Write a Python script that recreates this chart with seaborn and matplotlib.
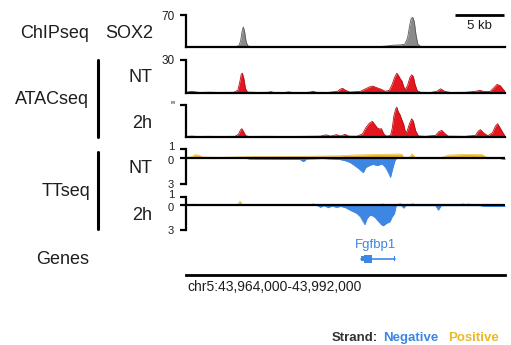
import numpy as np
import pandas as pd
import matplotlib
matplotlib.use("Agg")
import matplotlib.pyplot as plt
import seaborn as sns
from matplotlib.lines import Line2D
from matplotlib.patches import Rectangle
from matplotlib.transforms import ScaledTranslation

# ---------------- data (positions in kb from chr5:43,964,000) ----------------
region_label = "chr5:43,964,000-43,992,000"
region_len_kb = 28.0

chip_pos = [0, 1.5, 3.0, 4.4, 4.65, 4.8, 4.92, 5.03, 5.14, 5.26, 5.4, 5.65, 7, 9, 11, 13, 15, 17.0,
            17.8, 18.2, 18.8, 19.2, 19.45, 19.62, 19.76, 19.9, 20.04, 20.18, 20.35, 20.6, 21.5, 24, 26, 28]
chip_val = [0.5, 0.8, 0.6, 0.8, 3, 14, 34, 44, 34, 14, 3, 0.8, 0.6, 0.8, 0.6, 0.8, 0.7, 0.9,
            2.5, 4.0, 4.5, 6, 20, 45, 62, 65, 55, 28, 6, 1.2, 0.8, 0.6, 0.8, 0.5]

atac_nt_pos = [0, 0.3, 0.55, 0.8, 1.2, 2.0, 3.0, 4.2, 4.55, 4.72, 4.85, 4.95, 5.08, 5.22, 5.4,
               6.2, 7.2, 7.45, 7.7, 8.7, 9.0, 9.3, 10.5, 10.9, 11.15, 11.45, 12.5, 13.3, 13.55, 13.75,
               14.0, 14.4, 15.3, 15.7, 16.1, 16.4, 16.7, 17.1, 17.5, 17.85, 18.1, 18.3, 18.5, 18.65, 18.8,
               18.95, 19.1, 19.25, 19.45, 19.65, 19.8, 19.95, 20.1, 20.3, 20.6, 21.5, 22.0, 22.35, 22.7, 23.2,
               24.5, 25.4, 25.8, 26.2, 26.7, 27.0, 27.3, 27.6, 27.9, 28]
atac_nt_val = [0.5, 1.2, 1.5, 1.0, 0.5, 0.7, 0.5, 0.6, 2.5, 10, 17, 18, 13, 4, 0.8,
               0.5, 0.6, 1.2, 0.5, 0.5, 1.0, 0.5, 0.5, 0.8, 1.6, 0.6, 0.5, 1.5, 3.5, 4.2,
               2.5, 0.8, 1.5, 3.5, 5.5, 6.3, 5.0, 3.5, 1.5, 2.5, 8, 14, 18, 16, 13,
               11, 6, 3.0, 7, 14, 16.5, 15, 8, 2, 0.6, 0.5, 1.5, 3.8, 1.5, 0.5,
               0.6, 1.5, 2.4, 1.2, 1.5, 4.5, 7.8, 6.5, 2.5, 1.5]

atac_2h_pos = [0, 0.5, 1.0, 2.0, 3.0, 4.3, 4.6, 4.78, 4.9, 5.05, 5.25, 5.5, 7, 9, 10.5,
               11.8, 12.3, 12.7, 13.2, 13.6, 13.95, 14.3, 15.0, 15.5, 15.8, 16.1, 16.35, 16.55, 16.8, 17.0,
               17.15, 17.35, 17.6, 17.95, 18.1, 18.25, 18.4, 18.5, 18.62, 18.78, 18.95, 19.1, 19.25, 19.4, 19.6,
               19.8, 19.95, 20.15, 20.4, 21.0, 21.9, 22.2, 22.45, 22.7, 23.0, 24.5, 25.4, 25.65, 25.85, 26.1,
               26.5, 26.9, 27.15, 27.35, 27.6, 27.9, 28]
atac_2h_val = [0.5, 0.8, 0.5, 0.6, 0.5, 0.6, 2.5, 6.5, 7.8, 5.0, 1.2, 0.5, 0.6, 0.5, 0.6,
               0.8, 2.0, 0.8, 2.2, 0.9, 2.5, 0.8, 0.7, 3.0, 9, 13, 14.7, 12, 8.4, 7.5,
               7.8, 3.0, 0.8, 1.5, 8, 20, 26, 28, 24, 21, 16, 12, 5, 5, 12,
               17, 15, 6, 1.0, 0.6, 1.5, 5, 6.2, 3.5, 0.8, 0.6, 1.5, 5.5, 6.9, 4,
               1.2, 4, 10, 12.5, 8, 2.5, 1.5]

tt_nt_pos_x = [0, 0.5, 0.8, 1.1, 1.5, 3, 5.5, 8, 11, 13.5, 14.5, 16, 17.5, 18.5, 18.95,
               19.1, 19.6, 19.85, 20.1, 20.5, 22.5, 23.0, 24.5, 26.0, 26.4, 28]
tt_nt_pos_v = [0, 0.12, 0.35, 0.3, 0.08, 0.05, 0.12, 0.15, 0.18, 0.22, 0.3, 0.35, 0.4, 0.42, 0.4,
               0.05, 0.05, 0.45, 0.05, 0.03, 0.05, 0.3, 0.38, 0.35, 0.03, 0.02]
tt_nt_neg_x = [0, 5.0, 5.6, 8, 10.0, 10.3, 10.6, 12, 13.5, 14.0, 14.4, 14.8, 15.2, 15.55, 15.8,
               16.1, 16.4, 16.8, 17.2, 17.5, 17.75, 17.95, 18.15, 18.35, 18.5, 22, 27.4, 28]
tt_nt_neg_v = [0, 0.02, 0.15, 0.18, 0.2, 0.45, 0.15, 0.1, 0.2, 0.35, 0.55, 0.9, 1.3, 1.7, 1.1,
               0.9, 0.75, 0.9, 0.7, 1.1, 1.7, 2.25, 1.2, 0.3, 0.02, 0.02, 0.05, 0.2]

tt_2h_pos_x = [0, 0.45, 0.65, 0.9, 4.5, 4.74, 4.95, 11.0, 11.2, 11.4, 14.8, 15.0, 15.2, 17.1, 17.3,
               17.5, 18.6, 18.8, 19.0, 19.7, 19.9, 20.1, 24.0, 24.3, 24.6, 24.8, 25.0, 28]
tt_2h_pos_v = [0, 0.02, 0.15, 0.02, 0.02, 0.5, 0.02, 0.02, 0.2, 0.02, 0.02, 0.15, 0.02, 0.02, 0.2,
               0.02, 0.02, 0.25, 0.02, 0.02, 0.25, 0.02, 0.02, 0.2, 0.05, 0.2, 0.02, 0]
tt_2h_neg_x = [0, 11.5, 11.8, 12.1, 12.5, 12.8, 13.2, 13.6, 14.0, 14.4, 14.7, 15.0, 15.3, 15.5, 15.7,
               15.9, 16.15, 16.4, 16.6, 16.85, 17.1, 17.3, 17.6, 17.9, 18.1, 18.3, 18.45, 18.9, 19.1, 19.3,
               21.9, 22.15, 22.4, 25.8, 26.2, 28]
tt_2h_neg_v = [0, 0.02, 0.25, 0.05, 0.3, 0.1, 0.25, 0.15, 0.3, 0.6, 0.8, 1.0, 1.4, 1.9, 2.35,
               1.6, 1.2, 1.3, 1.5, 1.9, 2.3, 2.5, 2.2, 2.0, 1.4, 1.0, 0.05, 0.05, 0.35, 0.05,
               0.05, 0.6, 0.05, 0.05, 0.15, 0.15]

gene_name = "Fgfbp1"
gene_span = (15.35, 18.35)
gene_utr = (15.35, 15.6)
gene_cds = (15.6, 16.35)
gene_last_exon = (18.25, 18.35)

scale_bar_kb = (23.6, 27.9)
scale_label = "5 kb"

# ---------------- style ----------------
sns.set_theme(style="white")
plt.rcParams['font.family'] = ['Liberation Sans', 'DejaVu Sans']

W, H = 511, 345
fig = plt.figure(figsize=(W / 100, H / 100), dpi=100)
fig.patch.set_facecolor("white")

TXT = "#1e1e1e"
GREY, GREY_E = "#8a8a8a", "#5a5a5a"
RED, RED_E = "#e3171d", "#b01015"
BLUE = "#3d86e3"
GOLD = "#e9b92b"
LW = 1.6
TICKFS = 8.5


def add_ax(top, bottom, left=186, right=505):
    return fig.add_axes([left / W, 1 - bottom / H, (right - left) / W, (bottom - top) / H])


def fx(x):
    return x / W


def fy(y):
    return 1 - y / H


def style_left(ax):
    for s in ["top", "right"]:
        ax.spines[s].set_visible(False)
    ax.spines["left"].set_color("black")
    ax.spines["left"].set_linewidth(LW)
    ax.tick_params(axis="y", which="both", left=True, length=4.5, width=LW, color="black",
                   labelsize=TICKFS, labelcolor=TXT, pad=4, direction="out")
    ax.tick_params(axis="x", bottom=False, labelbottom=False)
    ax.set_xlim(0, region_len_kb)
    ax.set_xlabel("")
    ax.set_ylabel("")
    ax.patch.set_alpha(0)


def signal_track(ax, xs, vs, ymax, color, edge, ticklabel):
    df = pd.DataFrame({"pos": xs, "val": vs})
    ax.fill_between(df["pos"], 0, df["val"], color=color, lw=0)
    sns.lineplot(data=df, x="pos", y="val", ax=ax, color=edge, lw=0.6, estimator=None, sort=False)
    style_left(ax)
    ax.set_ylim(0, ymax)
    ax.spines["bottom"].set_color("black")
    ax.spines["bottom"].set_linewidth(LW)
    ax.set_yticks([ymax])
    ax.set_yticklabels([ticklabel])


def strand_track(ax, px, pv, nx, nv):
    dp = pd.DataFrame({"pos": px, "val": pv})
    dn = pd.DataFrame({"pos": nx, "val": [-v for v in nv]})
    ax.fill_between(dn["pos"], 0, dn["val"], color=BLUE, lw=0)
    ax.fill_between(dp["pos"], 0, dp["val"], color=GOLD, lw=0)
    sns.lineplot(data=dn, x="pos", y="val", ax=ax, color=BLUE, lw=0.5, estimator=None, sort=False)
    sns.lineplot(data=dp, x="pos", y="val", ax=ax, color=GOLD, lw=0.5, estimator=None, sort=False)
    style_left(ax)
    ax.spines["bottom"].set_visible(False)
    ax.set_ylim(-3, 1)
    ax.axhline(0, color="black", lw=LW, zorder=5)
    ax.set_yticks([1, 0, -3])
    ax.set_yticklabels(["1", "0", "3"])
    labs = ax.get_yticklabels()
    shifts = [2.0, -1.5, 0.0]  # points; keeps stacked "1" / "0" apart
    for lab, dy in zip(labs, shifts):
        lab.set_fontsize(8)
        lab.set_transform(lab.get_transform() + ScaledTranslation(0, dy / 72, fig.dpi_scale_trans))


# tracks
ax_chip = add_ax(15, 47)
signal_track(ax_chip, chip_pos, chip_val, 70, GREY, GREY_E, "70")
ax_chip.plot(list(scale_bar_kb), [70, 70], color="black", lw=2, clip_on=False, solid_capstyle="butt")
ax_chip.text(sum(scale_bar_kb) / 2, 47, scale_label, ha="center", va="center", fontsize=9.5, color=TXT)

ax_nt = add_ax(60, 93)
signal_track(ax_nt, atac_nt_pos, atac_nt_val, 30, RED, RED_E, "30")

ax_2h = add_ax(105, 137)
signal_track(ax_2h, atac_2h_pos, atac_2h_val, 30, RED, RED_E, '"')

ax_tnt = add_ax(149, 184)
strand_track(ax_tnt, tt_nt_pos_x, tt_nt_pos_v, tt_nt_neg_x, tt_nt_neg_v)

ax_t2h = add_ax(197, 230)
strand_track(ax_t2h, tt_2h_pos_x, tt_2h_pos_v, tt_2h_neg_x, tt_2h_neg_v)

# genes + coordinate bar
ax_g = add_ax(236, 275)
ax_g.set_xlim(0, region_len_kb)
ax_g.set_ylim(0, 1)
for s in ["top", "right", "left"]:
    ax_g.spines[s].set_visible(False)
ax_g.spines["bottom"].set_color("black")
ax_g.spines["bottom"].set_linewidth(2)
ax_g.set_xticks([])
ax_g.set_yticks([])
ax_g.patch.set_alpha(0)
gy = 0.42
ax_g.plot(list(gene_span), [gy, gy], color=BLUE, lw=1.2)
ax_g.add_patch(Rectangle((gene_cds[0], gy - 0.1), gene_cds[1] - gene_cds[0], 0.2, color=BLUE, lw=0))
ax_g.add_patch(Rectangle((gene_utr[0], gy - 0.065), gene_utr[1] - gene_utr[0], 0.13, color=BLUE, lw=0))
ax_g.add_patch(Rectangle((gene_last_exon[0], gy - 0.065), gene_last_exon[1] - gene_last_exon[0], 0.13,
                         color=BLUE, lw=0))
ax_g.text(sum(gene_span) / 2 - 0.2, 0.78, gene_name, ha="center", va="center", fontsize=9.5, color=BLUE)

fig.text(fx(187), fy(287), region_label, ha="left", va="center", fontsize=10, color=TXT)

# left labels
LFS = 13
fig.text(fx(55), fy(33), "ChIPseq", ha="center", va="center", fontsize=LFS, color=TXT)
fig.text(fx(129), fy(33), "SOX2", ha="center", va="center", fontsize=LFS, color=TXT)
fig.text(fx(52), fy(99), "ATACseq", ha="center", va="center", fontsize=LFS, color=TXT)
fig.text(fx(152), fy(77), "NT", ha="right", va="center", fontsize=LFS, color=TXT)
fig.text(fx(152), fy(124), "2h", ha="right", va="center", fontsize=LFS, color=TXT)
fig.text(fx(66), fy(192), "TTseq", ha="center", va="center", fontsize=LFS, color=TXT)
fig.text(fx(152), fy(168), "NT", ha="right", va="center", fontsize=LFS, color=TXT)
fig.text(fx(152), fy(215), "2h", ha="right", va="center", fontsize=LFS, color=TXT)
fig.text(fx(63), fy(259), "Genes", ha="center", va="center", fontsize=LFS, color=TXT)
for y1, y2 in [(60, 137), (152, 229)]:
    fig.add_artist(Line2D([fx(98), fx(98)], [fy(y1), fy(y2)], color="black", lw=2.2))

# strand legend
fig.text(fx(332), fy(338), "Strand:", ha="left", va="center", fontsize=9.5, fontweight="bold", color="#333333")
fig.text(fx(383), fy(338), "Negative", ha="left", va="center", fontsize=9.5, fontweight="bold", color=BLUE)
fig.text(fx(448), fy(338), "Positive", ha="left", va="center", fontsize=9.5, fontweight="bold", color=GOLD)

fig.savefig("out.png", dpi=100, facecolor="white")
